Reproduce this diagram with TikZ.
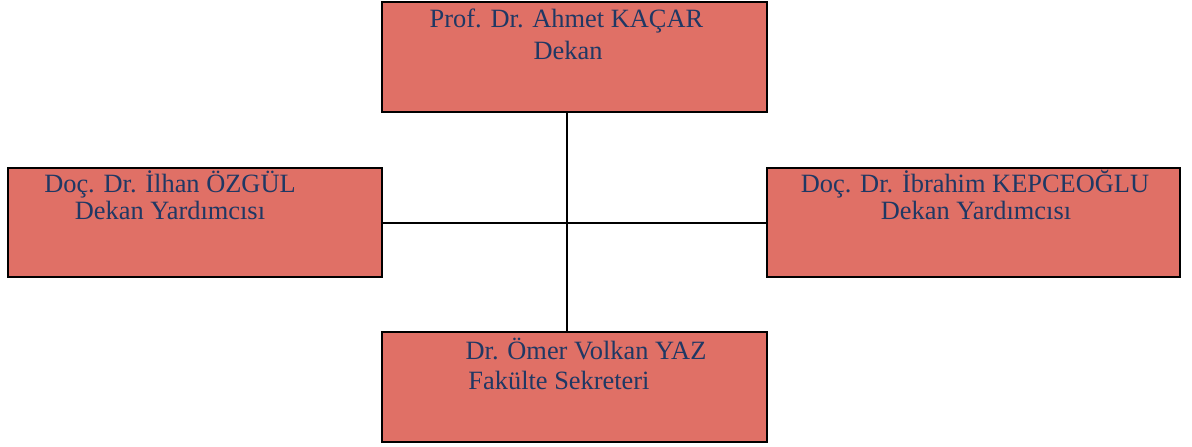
\documentclass[tikz,border=0pt]{standalone}
\usepackage{fontspec}
\setmainfont{Liberation Serif}
\definecolor{boxred}{RGB}{224,112,102}
\definecolor{namecol}{RGB}{31,56,100}
\tikzset{
	officebox/.style = {draw=black, line width=1pt, fill=boxred, inner sep=0pt, minimum height=54.5pt},
	person/.style = {anchor=base, inner sep=0pt, text=namecol, font=\fontsize{13.2}{16}\selectfont}
}
\begin{document}
\begin{tikzpicture}[x=0.5pt, y=-0.5pt]
		\useasboundingbox (0,0) rectangle (1192,446);
		% Boxes
		\node[officebox, minimum width=192.5pt, minimum height=55pt] (dean) at (574.5,57) {};
		\node[officebox, minimum width=187pt] (viceleft) at (195,222.5) {};
		\node[officebox, minimum width=206.5pt] (viceright) at (973.5,222.5) {};
		\node[officebox, minimum width=192.5pt, minimum height=55pt] (secretary) at (574.5,387) {};
		% Connectors
		\coordinate (hub) at (567,222.5);
		\draw[line width=1pt] (dean.south -| hub) -- (secretary.north -| hub);
		\draw[line width=1pt] (viceleft.east) -- (viceright.west);
		% Names
		\node[person] (deanname) at (566.5,27) {Prof. Dr. Ahmet KAÇAR};
		\node[person] (deantitle) at (568,59.3) {Dekan};
		\node[person] (leftname) at (170,192) {Doç. Dr. İlhan ÖZGÜL};
		\node[person] (lefttitle) at (170,219.3) {Dekan Yardımcısı};
		\node[person] (rightname) at (975,192) {Doç. Dr. İbrahim KEPCEOĞLU};
		\node[person] (righttitle) at (976,219.3) {Dekan Yardımcısı};
		\node[person] (secname) at (586,359) {Dr. Ömer Volkan YAZ};
		\node[person] (sectitle) at (559,389) {Fakülte Sekreteri};
	\end{tikzpicture}
\end{document}
